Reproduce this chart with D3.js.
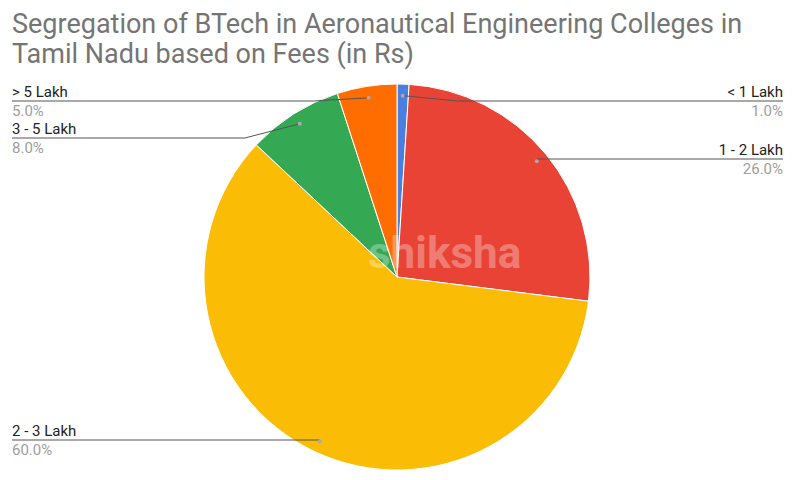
<!DOCTYPE html>
<html><head><meta charset="utf-8">
<script src="https://cdn.jsdelivr.net/npm/d3@7"></script>
<style>body{margin:0;background:#fff;font-family:Roboto,Arial,sans-serif}</style>
</head><body><div id="chart"></div>
<script>
var categories = ["< 1 Lakh", "1 - 2 Lakh", "2 - 3 Lakh", "3 - 5 Lakh", "> 5 Lakh"];
var values = [1.0, 26.0, 60.0, 8.0, 5.0];
var colors = ["#4a7fe0", "#e84335", "#fbbc05", "#34a853", "#ff6d01"];
// label line y and side for each slice
var labelY = [101, 159, 440, 138, 101];
var side = ["r", "r", "l", "l", "l"];

var W = 796, H = 480, cx = 397, cy = 277, r = 193;
var svg = d3.select("#chart").append("svg").attr("width", W).attr("height", H);

svg.append("text").attr("x", 12).attr("y", 33).attr("font-size", 27).attr("fill", "#757575")
  .text("Segregation of BTech in Aeronautical Engineering Colleges in");
svg.append("text").attr("x", 12).attr("y", 63).attr("font-size", 27).attr("fill", "#757575")
  .text("Tamil Nadu based on Fees (in Rs)");

var pie = d3.pie().sort(null).value(d => d)(values);
var arc = d3.arc().innerRadius(0).outerRadius(r);
var g = svg.append("g").attr("transform", "translate(" + cx + "," + cy + ")");
g.selectAll("path").data(pie).enter().append("path")
  .attr("d", arc).attr("fill", (d, i) => colors[i]).attr("stroke", "#fff").attr("stroke-width", 1);

svg.append("text").attr("x", 368).attr("y", 268).attr("font-size", 44).attr("font-weight", "bold")
  .attr("fill", "#fff").attr("opacity", 0.3).text("shiksha");

pie.forEach(function(d, i) {
  var a = (d.startAngle + d.endAngle) / 2;
  var px = cx + Math.sin(a) * r * 0.94, py = cy - Math.cos(a) * r * 0.94;
  var ly = labelY[i];
  var right = side[i] == "r";
  var ex = Math.abs(py - ly) < 3 ? px : px + (right ? 55 : -55);
  var endX = right ? 783 : 12;
  svg.append("polyline").attr("points", [[px, py], [ex, ly], [endX, ly]].map(p => p.join(",")).join(" "))
    .attr("fill", "none").attr("stroke", "#555").attr("stroke-width", 1);
  svg.append("circle").attr("cx", px).attr("cy", py).attr("r", 2).attr("fill", "#aaa");
  var anchor = right ? "end" : "start";
  svg.append("text").attr("x", endX).attr("y", ly - 4).attr("text-anchor", anchor)
    .attr("font-size", 15).attr("fill", "#222").text(categories[i]);
  svg.append("text").attr("x", endX).attr("y", ly + 15).attr("text-anchor", anchor)
    .attr("font-size", 15).attr("fill", "#9e9e9e").text(values[i].toFixed(1) + "%");
});
</script></body></html>
